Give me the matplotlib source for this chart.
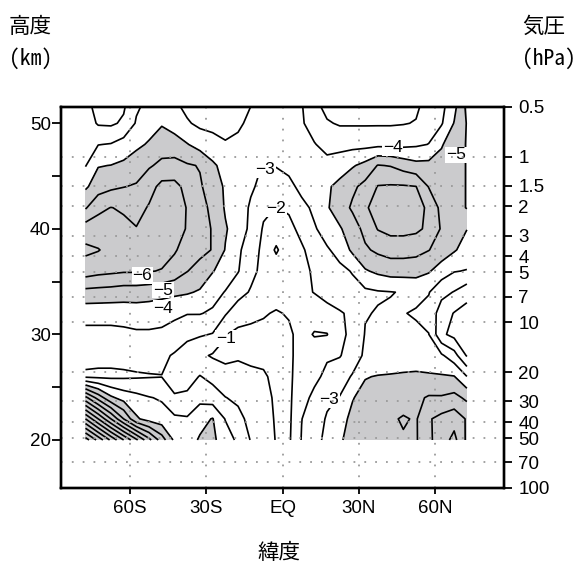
import matplotlib
matplotlib.use("Agg")
import matplotlib.pyplot as plt
import numpy as np
from matplotlib.ticker import FixedLocator, NullLocator, FixedFormatter

# grid of the cross-section
lat = [-77.5, -72.5, -67.5, -62.5, -57.5, -52.5, -47.5, -42.5, -37.5, -32.5,
       -27.5, -22.5, -17.5, -12.5, -7.5, -2.5, 2.5, 7.5, 12.5, 17.5,
       22.5, 27.5, 32.5, 37.5, 42.5, 47.5, 52.5, 57.5, 62.5, 67.5, 72.5]
height_km = [20, 22, 24, 26, 28, 30, 32, 34, 36, 38, 40, 42, 44, 46, 48, 50, 52]

# one row per height level, one column per latitude
trend = [
    [-16.5, -14.7, -12.8, -11.0, -9.2, -7.3, -5.5, -3.8, -3.6, -4.1, -4.2, -3.5, -2.8, -1.95, -1.5, -0.95, -0.85, -2.05, -2.6, -3.3, -3.9, -4.3, -4.4, -4.5, -4.8, -4.9, -4.9, -5.8, -6.5, -7.3, -5.8],
    [-12.0, -10.0, -8.0, -6.0, -4.15, -3.6, -3.4, -3.2, -3.1, -3.7, -4.05, -2.95, -2.3, -1.7, -1.4, -0.9, -0.8, -1.98, -2.5, -3.1, -3.7, -4.2, -4.4, -4.5, -4.85, -5.1, -4.9, -5.9, -6.3, -6.6, -5.9],
    [-7.3, -5.6, -4.2, -3.6, -3.3, -3.05, -2.9, -2.1, -2.2, -2.7, -2.5, -2.03, -1.8, -1.5, -1.3, -0.85, -0.8, -1.7, -2.2, -2.8, -3.05, -3.95, -4.3, -4.3, -4.4, -4.5, -4.8, -5.1, -5.1, -5.3, -4.8],
    [-1.85, -1.8, -1.8, -1.85, -1.9, -1.95, -1.98, -1.6, -1.6, -2.05, -1.7, -1.3, -1.3, -1.2, -1.1, -0.8, -0.8, -1.5, -1.8, -2.2, -2.5, -3.1, -3.95, -4.05, -4.1, -4.15, -4.2, -4.15, -4.1, -4.05, -3.02],
    [-2.3, -2.3, -2.3, -2.3, -2.35, -2.3, -2.2, -1.9, -1.7, -1.2, -0.9, -0.8, -0.9, -0.8, -0.8, -0.7, -0.8, -1.4, -1.6, -1.9, -1.95, -2.4, -3.2, -3.3, -3.3, -3.4, -3.4, -3.3, -3.15, -2.4, -0.9],
    [-2.7, -2.7, -2.7, -2.75, -2.85, -2.85, -2.8, -2.6, -2.15, -2.1, -1.95, -1.05, -0.8, -0.8, -0.7, -0.6, -0.8, -1.4, -0.92, -0.96, -1.85, -2.15, -3.05, -3.1, -3.2, -3.2, -3.1, -3.02, -1.2, -0.7, -0.3],
    [-3.4, -3.4, -3.4, -3.45, -3.5, -3.5, -3.4, -3.2, -3.05, -3.05, -2.85, -2.1, -1.4, -1.2, -1.1, -0.9, -1.1, -1.6, -1.5, -1.7, -1.9, -2.2, -2.95, -3.05, -3.1, -3.02, -2.95, -2.7, -1.5, -0.95, -0.6],
    [-4.7, -4.65, -4.6, -4.5, -4.5, -4.4, -4.3, -4.2, -4.1, -3.9, -3.4, -2.95, -2.4, -1.9, -1.6, -1.5, -1.6, -1.8, -2.03, -2.3, -2.6, -2.75, -2.8, -2.92, -2.97, -3.05, -3.15, -3.05, -2.3, -1.95, -1.4],
    [-6.5, -6.3, -6.2, -6.1, -6.1, -6.05, -5.95, -5.6, -5.03, -4.6, -4.05, -3.6, -3.05, -2.3, -1.7, -1.6, -1.7, -1.9, -2.05, -2.5, -2.8, -3.05, -3.9, -4.2, -4.4, -4.4, -4.4, -4.1, -3.5, -3.05, -2.95],
    [-7.2, -7.05, -6.7, -6.5, -6.2, -6.4, -6.4, -6.1, -5.6, -5.3, -4.95, -3.95, -3.2, -2.4, -1.8, -0.85, -1.7, -1.9, -2.3, -2.9, -3.3, -4.2, -4.85, -5.2, -5.4, -5.4, -5.3, -5.03, -4.6, -4.1, -3.6],
    [-6.5, -6.4, -6.3, -6.2, -6.05, -6.3, -6.4, -6.3, -5.95, -5.3, -4.95, -4.1, -3.5, -2.8, -1.9, -1.6, -1.8, -2.2, -2.9, -3.4, -3.9, -4.5, -5.3, -6.05, -6.3, -6.3, -6.2, -5.8, -4.9, -4.4, -4.02],
    [-4.9, -5.8, -6.02, -5.9, -5.6, -6.1, -6.5, -6.5, -5.95, -5.3, -4.8, -3.9, -3.4, -2.9, -2.2, -1.98, -2.1, -2.7, -3.2, -3.9, -4.5, -5.15, -5.9, -6.3, -6.5, -6.5, -6.3, -5.85, -4.7, -4.6, -5.05],
    [-3.85, -4.5, -4.8, -4.97, -5.1, -5.6, -6.3, -6.3, -5.7, -5.1, -4.6, -3.85, -3.5, -3.1, -2.8, -2.5, -2.7, -3.3, -3.8, -3.85, -4.3, -4.8, -5.3, -6.05, -6.1, -6.1, -6.02, -4.95, -4.5, -4.6, -5.05],
    [-2.95, -3.95, -4.02, -4.2, -4.5, -4.9, -5.2, -5.3, -5.1, -4.95, -4.2, -3.6, -3.4, -3.3, -2.95, -3.05, -3.3, -3.5, -3.6, -3.3, -3.5, -3.9, -4.3, -5.05, -4.95, -4.6, -4.3, -4.3, -4.4, -4.6, -5.05],
    [-2.6, -2.97, -3.05, -3.4, -3.8, -4.1, -4.6, -4.5, -4.05, -3.6, -3.25, -3.05, -3.2, -3.4, -3.5, -3.5, -3.5, -3.35, -3.05, -2.7, -2.7, -2.7, -2.7, -2.75, -2.75, -2.75, -2.85, -3.02, -3.9, -4.6, -5.05],
    [-2.5, -1.9, -1.85, -2.15, -3.1, -3.6, -3.9, -3.5, -3.1, -2.8, -2.8, -2.8, -2.85, -3.2, -3.3, -3.3, -3.3, -3.1, -2.6, -2.1, -1.9, -1.9, -1.9, -1.9, -1.9, -1.95, -2.05, -2.6, -2.9, -4.05, -5.05],
    [-2.2, -1.7, -1.6, -1.8, -2.8, -3.2, -3.4, -3.1, -2.7, -2.5, -2.5, -2.5, -2.6, -2.95, -3.2, -3.3, -3.3, -3.05, -2.2, -1.6, -1.6, -1.6, -1.6, -1.6, -1.6, -1.6, -1.8, -2.3, -2.7, -3.6, -5.3],
]

line_levels = [-17, -16, -15, -14, -13, -12, -11, -10, -9, -8, -7, -6, -5, -4, -3, -2, -1]
shade_levels = [-30, -4]

lat_ticks = [-60, -30, 0, 30, 60]
lat_ticklabels = ["60S", "30S", "EQ", "30N", "60N"]
height_ticks = [20, 30, 40, 50]
height_minor = [25, 35, 45]
pressure_ticks = [0.5, 1, 1.5, 2, 3, 4, 5, 7, 10, 20, 30, 40, 50, 70, 100]
pressure_ticklabels = ["0.5", "1", "1.5", "2", "3", "4", "5", "7", "10",
                       "20", "30", "40", "50", "70", "100"]

# inline value labels: (lat, height, value)
value_labels = [(-55.1, 35.6, -6), (-46.9, 34.2, -5), (-46.9, 32.5, -4),
                (-6.8, 45.6, -3), (-2.6, 41.9, -2), (-22.3, 29.6, -1),
                (43.3, 47.7, -4), (68.2, 47.0, -5), (18.4, 23.8, -3)]

LATIN = ["Liberation Sans", "DejaVu Sans"]
CJK = ["Noto Sans CJK JP", "DejaVu Sans"]
CJK_MONO = ["Noto Sans Mono CJK JP", "Noto Sans CJK JP", "DejaVu Sans"]

fig = plt.figure(figsize=(5.77, 5.63), dpi=100)
W, H = 577.0, 563.0
ax = fig.add_axes([60.7 / W, 1 - 488.0 / H, (504.0 - 60.7) / W, (488.0 - 106.7) / H])

X, Y = np.meshgrid(lat, height_km)
Z = np.array(trend)
ax.contourf(X, Y, Z, levels=shade_levels, colors=["#cbcbcd"], zorder=1)
ax.contour(X, Y, Z, levels=line_levels, colors="black", linewidths=1.2,
           linestyles="solid", zorder=2)

ax.set_xlim(-87.25, 87.1)
ax.set_ylim(15.45, 51.57)

ax.xaxis.set_major_locator(FixedLocator(lat_ticks))
ax.xaxis.set_major_formatter(FixedFormatter(lat_ticklabels))
ax.yaxis.set_major_locator(FixedLocator(height_ticks))
ax.yaxis.set_minor_locator(FixedLocator(height_minor))
ax.xaxis.set_minor_locator(NullLocator())

ax.tick_params(axis="y", which="both", direction="out", length=6.3, width=1.3,
               labelsize=13.5, pad=0.8, right=False)
ax.tick_params(axis="x", direction="out", length=4.3, width=1.3, labelsize=13.5,
               pad=4.6, top=False)
for lab in ax.get_xticklabels() + ax.get_yticklabels():
    lab.set_family(LATIN)

for s in ax.spines.values():
    s.set_linewidth(1.7)

dot = dict(color="#9a9a9a", linestyle=(0, (1, 5)), linewidth=1.3)
ax.grid(True, axis="x", which="major", **dot)
ax.set_axisbelow(False)

ax2 = ax.twinx()
ax2.set_yscale("log")
ax2.set_ylim(100, 0.5)
ax2.yaxis.set_major_locator(FixedLocator(pressure_ticks))
ax2.yaxis.set_major_formatter(FixedFormatter(pressure_ticklabels))
ax2.yaxis.set_minor_locator(NullLocator())
ax2.tick_params(axis="y", direction="out", length=5.8, width=1.3, labelsize=13.5, pad=4.5)
for lab in ax2.get_yticklabels():
    lab.set_family(LATIN)
ax2.grid(True, axis="y", which="major", **dot)
for s in ax2.spines.values():
    s.set_linewidth(1.7)

for la, hz, v in value_labels:
    ax.text(la, hz, "\u2212%d" % abs(v), ha="center", va="center", fontsize=12.5,
            family=LATIN, zorder=6,
            bbox=dict(facecolor="white", edgecolor="none", pad=0.6))

fig.text(9 / W, 1 - 27 / H, "高度", fontsize=15.5, family=CJK, ha="left", va="center")
fig.text(9 / W, 1 - 59 / H, "(km)", fontsize=15.5, family=CJK_MONO, ha="left", va="center")
fig.text(522 / W, 1 - 27 / H, "気圧", fontsize=15.5, family=CJK, ha="left", va="center")
fig.text(522 / W, 1 - 59 / H, "(hPa)", fontsize=15.5, family=CJK_MONO, ha="left", va="center")
fig.text(279 / W, 1 - 553 / H, "緯度", fontsize=15.5, family=CJK, ha="center", va="center")

fig.savefig("out.png", dpi=100)
